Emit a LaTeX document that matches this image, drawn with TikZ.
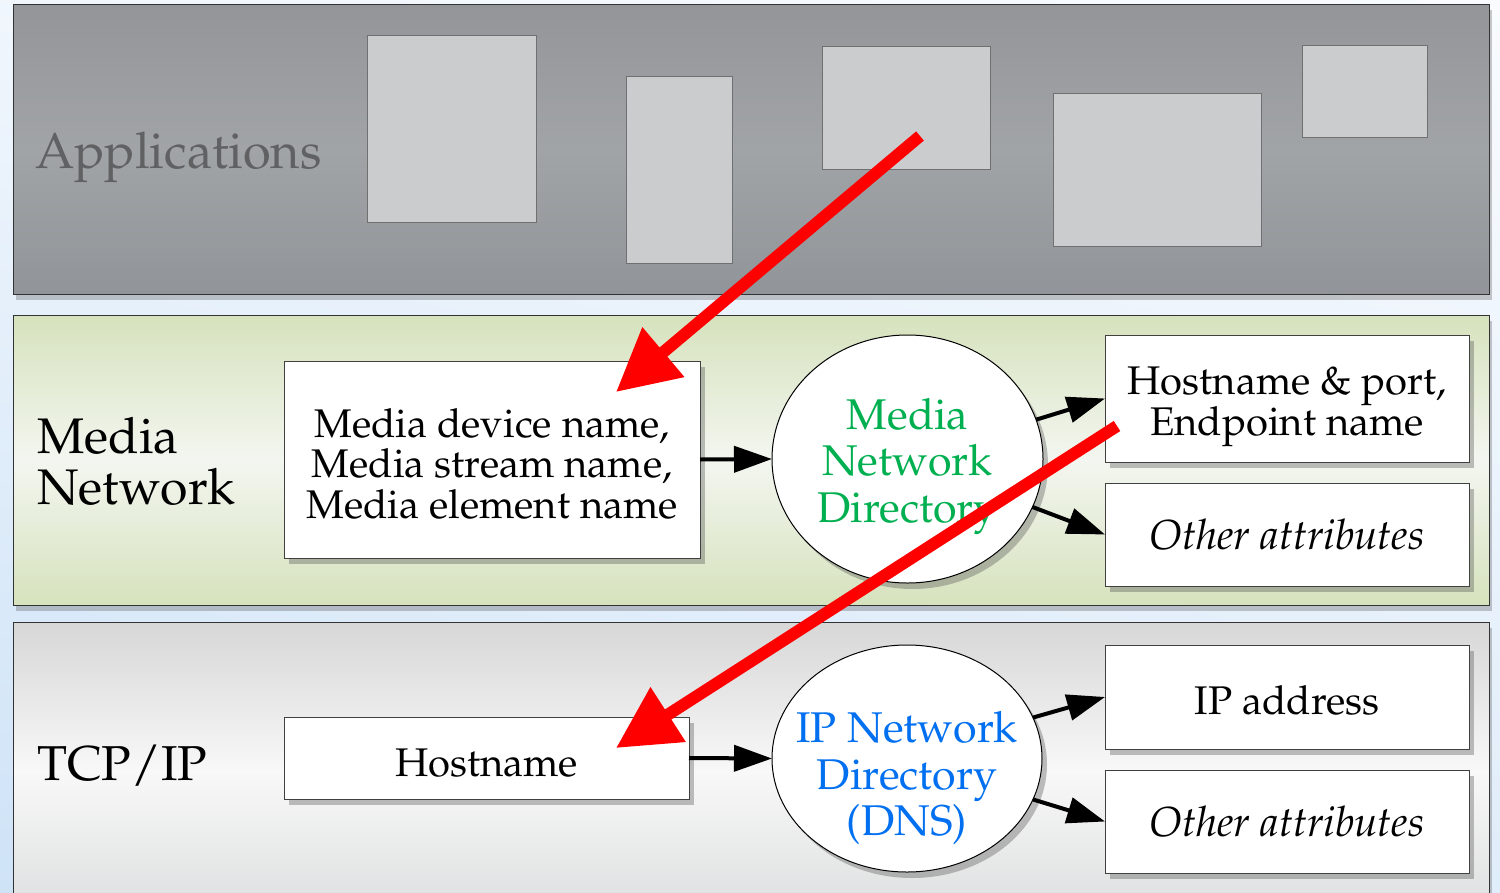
\documentclass[tikz,border=0pt]{standalone}
\usepackage[T1]{fontenc}
\usepackage{mathpazo}
\usetikzlibrary{arrows.meta,shadows,shapes.geometric,shadings}
\definecolor{bgblue}{HTML}{CFE3F7}
\definecolor{bgwhite}{HTML}{F9FBFE}
\definecolor{apptop}{HTML}{949598}
\definecolor{appmid}{HTML}{A1A4A7}
\definecolor{appbot}{HTML}{919498}
\definecolor{medgreen}{HTML}{D6E2BD}
\definecolor{medwhite}{HTML}{F3F6F0}
\definecolor{tcptop}{HTML}{D7D7D7}
\definecolor{tcpmid}{HTML}{F8F8F8}
\definecolor{tcpbot}{HTML}{DCDDDE}
\definecolor{appbox}{HTML}{CBCCCE}
\definecolor{appedge}{HTML}{707070}
\definecolor{apptext}{HTML}{606163}
\definecolor{mndgreen}{HTML}{00B050}
\definecolor{ipblue}{HTML}{0070F0}
\definecolor{redarrow}{HTML}{FF0000}
\tikzset{
  band/.style={draw=black!80, line width=1pt, inner sep=0pt, outer sep=0pt,
    drop shadow={shadow xshift=3pt, shadow yshift=-6pt, opacity=0.3, fill=black!70}},
  appbx/.style={draw=appedge, fill=appbox, line width=1pt, inner sep=0pt, outer sep=0pt},
  whitebox/.style={draw=black!75, fill=white, line width=1pt, inner sep=0pt, outer sep=0pt,
    align=center, font=\fontsize{40}{40.5}\selectfont,
    drop shadow={shadow xshift=5pt, shadow yshift=-6pt, opacity=0.35, fill=black!70}},
  italbox/.style={whitebox, font=\fontsize{42}{42}\selectfont\itshape},
  dirshape/.style={ellipse, draw=black, fill=white, line width=1pt, inner sep=0pt, outer sep=0pt,
    drop shadow={shadow xshift=5pt, shadow yshift=-6pt, opacity=0.35, fill=black!70}},
  dirtext/.style={align=center, inner sep=0pt, font=\fontsize{43}{46.5}\selectfont},
  layerlabel/.style={align=left, inner sep=0pt, anchor=west, font=\fontsize{50}{51}\selectfont},
  blackarrow/.style={line width=4pt, -{Triangle[length=38pt,width=26pt]}},
  redarr/.style={draw=redarrow, line width=12pt, -{Triangle[length=62pt,width=62pt]}}
}
\begin{document}
\begin{tikzpicture}[x=1pt,y=-1pt]
\useasboundingbox (0,0) rectangle (1500,892);
% background
\shade[upper left=bgwhite!80!bgblue, upper right=bgwhite, lower left=bgblue, lower right=bgblue!60!bgwhite]
  (0,0) rectangle (1500,892);
% bands
\node[band, top color=apptop, bottom color=appbot, middle color=appmid,
  minimum width=1476pt, minimum height=290pt] (appband) at (751,149) {};
\node[band, top color=medgreen, bottom color=medgreen, middle color=medwhite,
  minimum width=1476pt, minimum height=290pt] (medband) at (751,460) {};
\node[band, top color=tcptop, bottom color=tcpbot, middle color=tcpmid,
  minimum width=1476pt, minimum height=300pt] (tcpband) at (751,772) {};
% application boxes
\node[appbx, minimum width=169pt, minimum height=187pt] (a1) at (451.5,128.5) {};
\node[appbx, minimum width=106pt, minimum height=187pt] (a2) at (679,169.5) {};
\node[appbx, minimum width=168pt, minimum height=123pt] (a3) at (906,107.5) {};
\node[appbx, minimum width=208pt, minimum height=153pt] (a4) at (1157,169.5) {};
\node[appbx, minimum width=125pt, minimum height=92pt] (a5) at (1364.5,91) {};
% layer labels
\node[inner sep=0pt, anchor=base west, text=apptext, font=\fontsize{50.5}{51}\selectfont] (lapp) at (35,168) {Applications};
\node[layerlabel] (lmed) at (37,461.5) {Media\\Network};
\node[inner sep=0pt, anchor=base west, font=\fontsize{49}{51}\selectfont] (ltcp) at (37,780) {TCP/IP};
% media network layer
\node[whitebox, minimum width=416pt, minimum height=197pt] (mbox) at (492,459.5)
  {\rule{0pt}{37pt}Media device name,\\Media stream name,\\Media element name};
\node[dirshape, minimum width=271pt, minimum height=248pt] (mnd) at (907.5,459) {};
\node[dirtext, text=mndgreen] (mndtext) at (907.5,466) {Media\\Network\\Directory};
\node[whitebox, minimum width=364pt, minimum height=127pt] (hp) at (1287,398.5)
  {\rule{0pt}{44pt}Hostname \& port,\\Endpoint name};
\node[italbox, minimum width=364pt, minimum height=103pt] (oa1) at (1287,534.5)
  {Other attributes};
% tcp/ip layer
\node[whitebox, minimum width=405pt, minimum height=82pt] (hbox) at (486.5,758) {\rule{0pt}{37pt}Hostname};
\node[dirshape, minimum width=270pt, minimum height=227pt] (ipd) at (907,758.5) {};
\node[dirtext, text=ipblue] (ipdtext) at (907,778) {IP Network\\Directory\\(DNS)};
\node[whitebox, minimum width=364pt, minimum height=104pt] (ipa) at (1287,697) {\rule{0pt}{35pt}IP address};
\node[italbox, minimum width=364pt, minimum height=103pt] (oa2) at (1287,821.5)
  {Other attributes};
% black arrows
\draw[blackarrow] (mbox.east) -- (mnd.west);
\draw[blackarrow] (mnd.17) -- (hp.west);
\draw[blackarrow] (mnd.-21) -- (oa1.west);
\draw[blackarrow] (hbox.east) -- (ipd.west);
\draw[blackarrow] (ipd.18) -- (ipa.west);
\draw[blackarrow] (ipd.-18) -- (oa2.west);
% red arrows
\coordinate (r1s) at (920,136);
\coordinate (r1e) at (616,392);
\coordinate (r2s) at (1117,426);
\coordinate (r2e) at (616,748);
\draw[redarr] (r1s) -- (r1e);
\draw[redarr] (r2s) -- (r2e);
\end{tikzpicture}
\end{document}
